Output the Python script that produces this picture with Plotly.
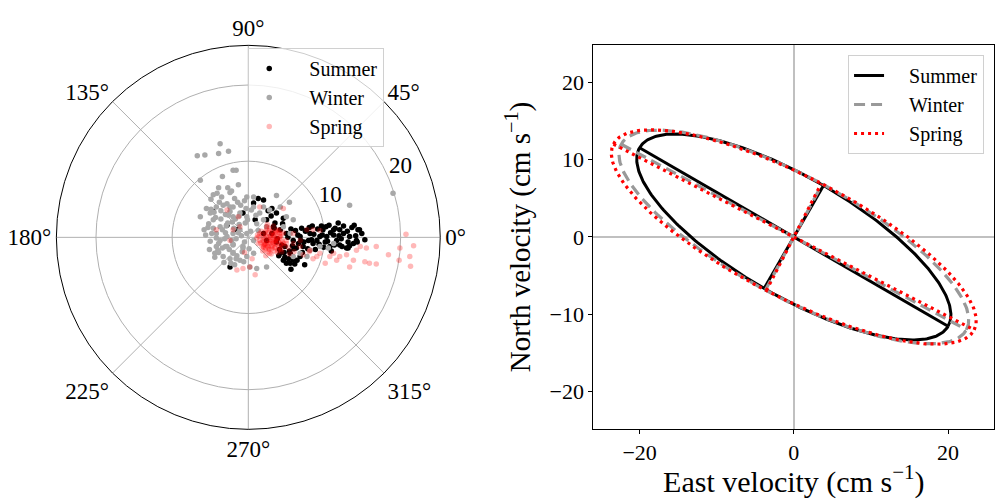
import numpy as np
import plotly.graph_objects as go

# ---------------- data ----------------
seasons = ["Summer", "Winter", "Spring"]

# scatter velocities (east, north) in cm/s
summer_east = [-4.6, -2.4, -2.8, 1.3, 2.0, 0.7, 3.1, 3.7, 4.6, 5.5, 5.6, 7.4, 4.6, 14.4, 15.3,
               11.2, 9.8, 12.5, 13.8, 12.9, 10.7, 9.0, 8.1, 7.2, 5.9, 5.0, 4.2, 3.3, 2.4, 11.6,
               13.3, 12.0, 10.3, 9.4, 8.5, 6.8, 6.3, 5.5, 6.8, 14.2, 14.9, 11.2, 13.1, 12.3, 10.1,
               7.9, 4.8, 3.7, 3.1, 2.4, 2.0, 4.2, 5.0, -0.7, -1.5, 0.9,
               7.0, 7.5, 8.0, 8.6, 9.1, 9.7, 10.2, 10.8, 11.4, 11.9, 12.5, 13.0, 13.6, 14.1, 14.6,
               7.3, 8.3, 9.3, 10.4, 11.3, 12.2, 13.3, 14.3, 7.8, 8.8, 9.9, 10.9, 12.0, 13.1,
               6.2, 6.6, 5.4, 4.8, 4.1, 3.5, 5.9, 6.4, 7.1, 3.0, 2.6,
               3.8, 4.4, 5.2, 5.8, 6.5, 4.0, 4.7, 5.3, 6.0, 6.9, 3.4, 4.5, 5.6, 6.1, 7.6, 8.4,
               9.6, 10.6, 11.8, 13.9]
summer_north = [3.4, -3.9, 1.6, 5.1, 4.9, 4.5, 3.8, 3.2, 2.5, -3.4, -4.2, -3.6, -3.0, 1.0, -0.3,
                1.0, 1.0, 0.5, -0.8, -1.4, -1.2, -0.4, 0.5, -1.2, -0.4, 0.5, 1.0, 1.4, 2.3, -0.4,
                0.1, 1.0, 0.1, 0.1, -0.8, 0.1, -1.4, -2.1, -2.5, -0.4, 0.5, 0.3, -0.6, -1.2, -0.6,
                -0.4, -1.2, -0.6, 0.5, -0.4, 0.5, -2.1, -3.4, 3.2, 1.0, 2.3,
                1.2, 0.8, 1.3, 0.4, 1.1, 0.3, 1.4, 0.6, 1.2, 0.2, 1.5, 0.8, 1.3, 0.2, 1.0,
                -0.6, -0.3, -0.9, -0.5, -1.0, -0.2, -1.1, -0.6, -1.5, -1.6, -1.3, -1.8, -1.0, -1.4,
                0.9, -0.8, -1.8, -2.6, -1.6, 1.9, -2.9, -3.0, -2.0, 2.8, 3.5,
                -0.2, -1.0, 0.0, -1.1, 0.3, -2.4, -2.0, -2.8, -1.5, -0.4, 1.2, 1.8, 1.1, -3.5, 0.9, 1.5,
                1.5, 1.6, 1.9, 1.6]

winter_east = [-3.7, -3.9, -2.6, -6.7, -5.7, -6.3, -2.0, -1.6, -3.4, -1.3, -3.9, -2.7, -4.6, -2.4,
               -3.5, -0.2, 0.7, 3.7, 5.4, 13.3, 19.0, -5.0, -4.6, -4.2, -3.3, -2.0, -1.1, -3.7,
               -4.6, -4.2, -3.7, -2.8, -2.0, -1.1, -4.2, -4.4, -3.3, -2.4, -2.0, -1.1, -0.2, 0.7,
               -2.8, -2.0, -0.7, 0.2, 1.1, 2.4, 1.5, 2.0, 2.8, 0.7, -0.2, -2.0, -2.4, 5.0, 5.9,
               -6.3, -5.5, 1.1, 2.0, 2.4, -0.2, 0.7, 5.9, 6.8, 7.7, 10.5, 9.4, 11.2, 8.1, 4.2,
               4.6, 5.5,
               -5.2, -4.8, -4.3, -3.9, -3.4, -3.0, -2.5, -2.1, -1.6, -1.2, -0.8, -0.3, 0.3, -5.6,
               -5.0, -4.4, -3.8, -3.2, -2.6, -2.0, -1.4, -0.9, -4.9, -4.1, -3.6, -2.9, -2.2, -1.7,
               -0.5, 0.4, 1.0, -3.0, -2.3, -1.5, -0.6, -5.3, -4.0, -1.8, -0.4, 1.3,
               -4.5, -3.6, -2.8, -2.2, -1.9, -1.3, -0.7, -0.1, -5.8, -4.9, -3.9, -3.1, -2.7, -1.8,
               -1.0, -0.5, -4.2, -3.4, -2.4, -1.6, -5.1, -3.0, -2.0, -1.2, 0.1]
winter_north = [12.3, 11.0, 11.3, 10.7, 10.8, 7.5, 8.8, 8.8, 8.0, 6.9, 6.5, 6.5, 5.6, 5.9,
                5.3, 5.3, 5.3, 5.5, 4.6, 4.2, 5.8, 3.2, 2.3, 4.0, 4.2, 4.0, 3.2, 1.4,
                1.2, 0.5, -0.4, 0.1, 0.5, 1.0, -1.2, -2.1, -2.5, -2.8, -2.1, -3.0, -2.5, -2.1,
                -1.2, -1.0, -1.2, -3.9, -4.1, -3.9, 3.2, 4.0, 3.6, 4.0, 2.7, 2.7, 4.0, 2.7, 2.3,
                2.7, 3.8, 1.8, 2.3, 1.4, 0.5, -0.4, -2.5, -2.1, -2.5, -1.4, -1.2, -0.8, -1.7, 4.0,
                1.4, 0.5,
                1.8, 0.5, 2.6, -0.8, 1.0, 3.0, -1.6, 2.0, -0.2, 1.7, -1.9, 3.8, 0.8, 0.3,
                -0.5, -2.6, 4.6, -3.3, 2.9, -0.9, 4.6, 0.2, 5.0, 5.8, 3.5, 1.5, 6.1, 2.4,
                4.8, 3.6, 2.9, -1.2, -3.4, -2.4, -3.2, 1.3, -1.7, -3.6, 1.9, 0.9,
                3.3, 2.4, 4.4, -0.4, 1.2, 0.6, -1.4, 2.3, 1.0, 3.7, -2.0, -0.2, 1.9, 5.1,
                4.2, -0.6, -0.1, -1.4, 3.4, -2.8, -1.6, 0.6, -2.0, 2.8, -1.5]

spring_east = [20.7, 21.7, 19.9, 21.2, 21.3, 19.8, 18.4, 16.8, 15.5, 15.9, 16.8, 15.3, 13.3, 13.8,
               12.0, 11.2, 10.1, 9.0, 8.1, 6.8, 5.9, 4.6, 1.5, -1.5, -0.7, 0.9, 0.2, -2.4, -2.0,
               -1.1, -4.2, 8.5, 9.4, 7.7, 14.7, 12.9, 11.6, 10.7, 14.2, 9.4, 8.5, -2.8, -1.3,
               2.4, 2.8, 3.3, 2.0, 3.7, 2.6, 1.5, 4.2, 3.1, 3.5, 2.2, 4.6, 2.4, 3.9, 1.8, 5.0,
               2.8, 1.1, 4.4, 3.3, 2.9, 3.6, 2.3, 1.3, 5.3, 5.9, 6.8,
               1.8, 2.1, 2.5, 2.9, 3.3, 3.7, 4.1, 4.5, 1.6, 2.2, 2.7, 3.2, 3.6, 4.0, 4.4, 4.8,
               1.9, 2.4, 2.8, 3.4, 3.9, 4.3, 2.0, 2.6, 3.1, 3.5, 4.2, 1.4, 2.3, 3.0, 3.8, 2.5,
               3.3, 4.6, 5.4, 6.0, 7.2, 8.0, -0.5, 0.5,
               2.0, 2.3, 2.6, 2.9, 3.2, 3.5, 3.8, 4.1, 2.1, 2.4, 2.7, 3.0, 3.3, 3.6, 3.9, 4.2,
               1.7, 2.2, 2.5, 2.8, 3.1, 3.4, 3.7, 4.0, 4.3, 1.9, 2.6, 3.2, 3.9, 2.3, 2.9, 3.5,
               4.1, 2.0, 2.8, 3.6, 4.4, 5.0, 1.2, 1.5]
spring_north = [0.4, -1.1, -1.4, -2.5, -3.8, -3.0, -2.3, -1.2, -1.4, -3.4, -3.5, -3.2, -3.9, -3.0,
                -2.5, -2.1, -3.4, -2.5, -1.7, -1.2, 0.5, 3.8, 4.0, -4.3, -4.1, -4.9, -3.9, -0.4, 1.0,
                1.4, 1.0, 1.0, 0.9, 1.0, -1.2, -2.3, -3.0, -2.5, -1.7, -2.1, -2.8, 3.6, 2.7,
                0.1, -0.4, -0.1, -0.6, -0.8, -1.2, 0.5, 0.1, 0.7, -1.4, -1.7, -0.8, 1.4, 1.0, -1.2, -0.4,
                -2.1, -0.1, -1.9, -0.8, 0.0, -0.4, -0.8, -0.8, -1.4, -0.8, -0.4,
                0.3, -0.2, 0.6, -0.5, 0.2, -0.1, 0.5, -0.6, -0.7, -1.0, -1.5, -1.1, 0.9, -1.3, 0.4, -1.1,
                -1.8, 1.0, 1.2, -1.8, 0.7, -1.6, -1.3, -0.8, 0.3, -0.3, -0.9, 0.1, -2.4, -2.2, -2.0, 1.7,
                1.5, 0.6, -2.2, -1.9, -2.3, -1.9, -2.0, -2.8,
                0.0, 0.4, -0.3, 0.2, -0.6, 0.5, -0.2, 0.1, -0.9, -0.5, 0.0, -1.2, -0.4, -0.9, -0.5, -1.4,
                0.8, 0.7, -1.1, 0.9, -1.5, 0.3, 0.6, -0.2, -0.9, -0.4, -1.9, 0.7, -1.7, -1.4, -0.8, -1.3,
                0.9, -1.1, -1.6, -0.6, -0.3, -0.8, 0.3, -0.4]

# tidal-ellipse parameters (cm/s, degrees)
semi_major = [23.1, 25.4, 26.3]
semi_minor = [7.7, 7.8, 7.8]
inclination = [-30.0, -28.2, -27.2]

angular_ticks = [0, 45, 90, 135, 180, 225, 270, 315]
radial_ticks = [10, 20]
radial_label_angle = 22.5
x_ticks = [-20, 0, 20]
y_ticks = [-20, -10, 0, 10, 20]

# ---------------- styles ----------------
FONT = "Liberation Serif"
scatter_color = {"Summer": "black", "Winter": "#a8a8a8", "Spring": "rgba(255,0,0,0.28)"}
line_style = {
    "Summer": dict(color="black", width=3, dash="solid"),
    "Winter": dict(color="#999999", width=3.2, dash="11px,6px"),
    "Spring": dict(color="red", width=3.2, dash="3px,4px"),
}
name_pad = "\u2002\u2002"

fig = go.Figure()

# ---------------- polar scatter ----------------
scatter_data = {
    "Summer": (summer_east, summer_north),
    "Winter": (winter_east, winter_north),
    "Spring": (spring_east, spring_north),
}
for s in seasons:
    e, n = np.array(scatter_data[s][0]), np.array(scatter_data[s][1])
    r = np.hypot(e, n)
    th = np.degrees(np.arctan2(n, e))
    fig.add_trace(go.Scatterpolar(
        r=r, theta=th, mode="markers", name=name_pad + s,
        marker=dict(size=5.5, color=scatter_color[s], line=dict(width=0)),
        legend="legend", subplot="polar", hoverinfo="skip",
    ))

# radial tick labels drawn on the polar scale
fig.add_trace(go.Scatterpolar(
    r=radial_ticks, theta=[radial_label_angle] * len(radial_ticks),
    mode="text", text=[str(v) for v in radial_ticks], textposition="top right",
    textfont=dict(size=23, family=FONT, color="black"),
    showlegend=False, subplot="polar", hoverinfo="skip",
))

# ---------------- ellipses ----------------
t = np.linspace(0, 2 * np.pi, 361)
for s, a, b, inc in zip(seasons, semi_major, semi_minor, inclination):
    phi = np.radians(inc)
    ex = a * np.cos(t) * np.cos(phi) - b * np.sin(t) * np.sin(phi)
    ey = a * np.cos(t) * np.sin(phi) + b * np.sin(t) * np.cos(phi)
    maj = np.array([-a, a])
    mnr = np.array([-b, b])
    xs = list(ex) + [None] + list(maj * np.cos(phi)) + [None] + list(-mnr * np.sin(phi))
    ys = list(ey) + [None] + list(maj * np.sin(phi)) + [None] + list(mnr * np.cos(phi))
    fig.add_trace(go.Scatter(
        x=xs, y=ys, mode="lines", name=name_pad + s, line=line_style[s],
        xaxis="x", yaxis="y", legend="legend2", hoverinfo="skip",
    ))

grid_col = "#b0b0b0"
fig.update_layout(
    width=997, height=499,
    margin=dict(l=0, r=0, t=0, b=0, autoexpand=False),
    paper_bgcolor="white", plot_bgcolor="white",
    font=dict(family=FONT, color="black", size=20),
    polar=dict(
        domain=dict(x=[0.0565, 0.4416], y=[0.1397, 0.909]),
        bgcolor="white",
        angularaxis=dict(
            rotation=0, direction="counterclockwise",
            tickvals=angular_ticks, ticktext=[f"{v}°" for v in angular_ticks],
            showline=True, linecolor="black", linewidth=1,
            gridcolor=grid_col, gridwidth=0.8, ticks="",
            tickfont=dict(size=23, family=FONT),
        ),
        radialaxis=dict(
            range=[0, 25.2], tickvals=radial_ticks, showticklabels=False,
            angle=radial_label_angle, showline=False, ticks="",
            gridcolor=grid_col, gridwidth=0.8,
        ),
    ),
    xaxis=dict(
        domain=[0.5951, 0.9973], range=[-26, 26], automargin=False,
        tickvals=x_ticks, ticktext=[str(v).replace("-", "−") for v in x_ticks],
        showline=True, mirror=True, linecolor="black", linewidth=1,
        ticks="outside", ticklen=4, tickcolor="black",
        showgrid=False, zeroline=True, zerolinecolor="#c0c0c0", zerolinewidth=1.5,
        tickfont=dict(size=22, family=FONT),
        title=dict(text="East velocity (cm s<sup>−1</sup>)", font=dict(size=30, family=FONT), standoff=4),
    ),
    yaxis=dict(
        domain=[0.1403, 0.9098], range=[-24.85, 24.85], automargin=False,
        tickvals=y_ticks, ticktext=[str(v).replace("-", "−") for v in y_ticks],
        showline=True, mirror=True, linecolor="black", linewidth=1,
        ticks="outside", ticklen=4, tickcolor="black",
        showgrid=False, zeroline=True, zerolinecolor="#c0c0c0", zerolinewidth=1.5,
        tickfont=dict(size=22, family=FONT),
        title=dict(text="North velocity (cm s<sup>−1</sup>)", font=dict(size=29, family=FONT), standoff=10),
    ),
    legend=dict(
        x=0.249, y=0.904, xanchor="left", yanchor="top",
        bgcolor="rgba(255,255,255,0.8)", bordercolor="#d0d0d0", borderwidth=1,
        font=dict(size=20, family=FONT), itemsizing="trace", tracegroupgap=0,
    ),
    legend2=dict(
        x=0.8506, y=0.8898, xanchor="left", yanchor="top",
        bgcolor="rgba(255,255,255,0.8)", bordercolor="#d0d0d0", borderwidth=1,
        font=dict(size=20, family=FONT),
    ),
    showlegend=True,
)

fig.write_html(
    "out.html",
    config={"displayModeBar": False},
    post_script="document.body.style.margin='0';document.body.style.padding='0';",
)
